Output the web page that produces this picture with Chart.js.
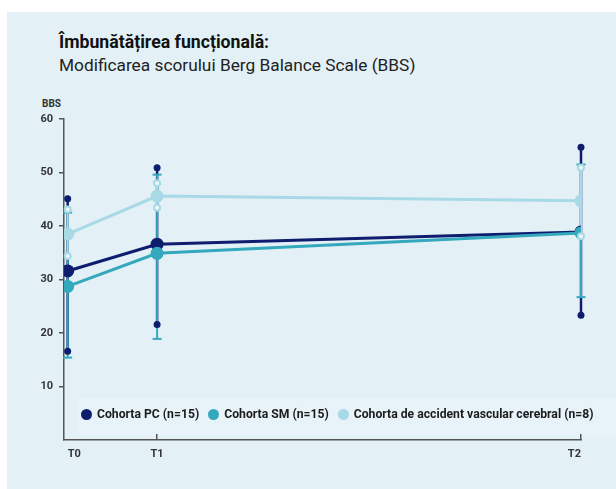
<!DOCTYPE html>
<html lang="ro">
<head>
    <meta charset="UTF-8">
    <title>Berg Balance Scale</title>
    <style>
        body {
            margin: 0;
            background: #ffffff;
            font-family: 'Roboto', 'Liberation Sans', sans-serif;
        }
        #wrap {
            position: relative;
            width: 616px;
            height: 489px;
            overflow: hidden;
        }
        #panel {
            position: absolute;
            left: 7px;
            top: 12px;
            right: 0;
            bottom: 0;
            background: #e3f1f7;
        }
        #legendBox {
            position: absolute;
            left: 79px;
            top: 398px;
            width: 537px;
            height: 38px;
            background: #e7f3f8;
        }
        #chart {
            position: absolute;
            left: 0;
            top: 0;
        }
        .title {
            position: absolute;
            left: 59px;
            top: 32px;
            font-size: 17.7px;
            font-weight: 700;
            color: #111;
        }
        .subtitle {
            position: absolute;
            left: 59px;
            top: 55px;
            font-size: 17.3px;
            color: #222;
        }
        .axisTitle {
            position: absolute;
            left: 42px;
            top: 98px;
            font-size: 10px;
            font-weight: 700;
            color: #333;
        }
        #legend {
            position: absolute;
            left: 81px;
            top: 407px;
            display: flex;
            gap: 9px;
            font-size: 12.2px;
            font-weight: 700;
            color: #1c1c1c;
        }
        #legend span.item {
            display: flex;
            align-items: center;
        }
        #legend i {
            display: inline-block;
            width: 11px;
            height: 11px;
            border-radius: 50%;
            margin-right: 5px;
        }
    </style>
    <script src="https://cdn.jsdelivr.net/npm/chart.js"></script>
</head>
<body>
<div id="wrap">
    <div id="panel"></div>
    <div id="legendBox"></div>
    <div class="title">Îmbunătățirea funcțională:</div>
    <div class="subtitle">Modificarea scorului Berg Balance Scale (BBS)</div>
    <div class="axisTitle">BBS</div>
    <canvas id="chart" width="616" height="489"></canvas>
    <div id="legend"></div>
</div>

<script>
    // time points and where they sit on the x axis
    const timepoints = ['T0', 'T1', 'T2'];
    const timeX = [0, 1, 5.74];

    const seriesNames = ['Cohorta PC (n=15)', 'Cohorta SM (n=15)', 'Cohorta de accident vascular cerebral (n=8)'];
    const seriesColors = ['#0e1d6e', '#34a8bd', '#a8d9e6'];

    // mean BBS, and error bar ends
    const pcMean = [31.6, 36.6, 38.9];
    const pcLow = [16.6, 21.6, 23.3];
    const pcHigh = [45.1, 50.9, 54.7];

    const smMean = [28.7, 34.9, 38.7];
    const smLow = [15.4, 18.9, 26.7];
    const smHigh = [42.5, 49.6, 51.5];

    const avcMean = [38.5, 45.6, 44.7];
    const avcLow = [34.4, 43.4, 38.1];
    const avcHigh = [43.1, 48.0, 50.9];

    const yTicks = [10, 20, 30, 40, 50, 60];

    const means = [pcMean, smMean, avcMean];
    const lows = [pcLow, smLow, avcLow];
    const highs = [pcHigh, smHigh, avcHigh];
    const endStyles = ['dot', 'cap', 'ring'];
    const drawOrder = [2, 1, 3];

    // legend
    const legendEl = document.getElementById('legend');
    seriesNames.forEach((name, i) => {
        const item = document.createElement('span');
        item.className = 'item';
        item.innerHTML = '<i style="background:' + seriesColors[i] + '"></i>' + name;
        legendEl.appendChild(item);
    });

    const toPoints = arr => arr.map((v, i) => ({ x: timeX[i], y: v }));

    // error bars: stems under the lines, end markers on top
    const errorBars = {
        id: 'errorBars',
        beforeDatasetsDraw(chart) {
            const { ctx, scales: { x, y } } = chart;
            ctx.save();
            [0, 1, 2].forEach(s => {
                ctx.strokeStyle = seriesColors[s];
                ctx.lineWidth = s === 0 ? 2.5 : 2;
                timeX.forEach((t, i) => {
                    const px = x.getPixelForValue(t);
                    ctx.beginPath();
                    ctx.moveTo(px, y.getPixelForValue(lows[s][i]));
                    ctx.lineTo(px, y.getPixelForValue(highs[s][i]));
                    ctx.stroke();
                });
            });
            ctx.restore();
        },
        afterDatasetsDraw(chart) {
            const { ctx, scales: { x, y } } = chart;
            ctx.save();
            [0, 1, 2].forEach(s => {
                timeX.forEach((t, i) => {
                    const px = x.getPixelForValue(t);
                    [lows[s][i], highs[s][i]].forEach(v => {
                        const py = y.getPixelForValue(v);
                        if (endStyles[s] === 'dot') {
                            ctx.fillStyle = seriesColors[s];
                            ctx.beginPath();
                            ctx.arc(px, py, 3.5, 0, Math.PI * 2);
                            ctx.fill();
                        } else if (endStyles[s] === 'cap') {
                            ctx.strokeStyle = seriesColors[s];
                            ctx.lineWidth = 2;
                            ctx.beginPath();
                            ctx.moveTo(px - 4.5, py);
                            ctx.lineTo(px + 4.5, py);
                            ctx.stroke();
                        } else {
                            ctx.fillStyle = '#eef7fa';
                            ctx.strokeStyle = seriesColors[s];
                            ctx.lineWidth = 2;
                            ctx.beginPath();
                            ctx.arc(px, py, 3, 0, Math.PI * 2);
                            ctx.fill();
                            ctx.stroke();
                        }
                    });
                });
            });
            ctx.restore();
        },
        afterDraw(chart) {
            // small inward tick marks on the x axis
            const { ctx, scales: { x }, chartArea } = chart;
            ctx.save();
            ctx.strokeStyle = '#555';
            ctx.lineWidth = 1.5;
            timeX.forEach((t, i) => {
                if (i === 0) return;
                const px = Math.round(x.getPixelForValue(t)) - 0.25;
                ctx.beginPath();
                ctx.moveTo(px, chartArea.bottom);
                ctx.lineTo(px, chartArea.bottom - 6);
                ctx.stroke();
            });
            ctx.restore();
        }
    };

    const tickFont = { family: "'Roboto', 'Liberation Sans', sans-serif", size: 11, weight: 'bold' };

    new Chart(document.getElementById('chart'), {
        type: 'line',
        data: {
            datasets: seriesNames.map((name, s) => ({
                label: name,
                data: toPoints(means[s]),
                borderColor: seriesColors[s],
                backgroundColor: seriesColors[s],
                borderWidth: 3,
                pointRadius: 6.5,
                pointHoverRadius: 6.5,
                pointBorderWidth: 0,
                tension: 0,
                order: drawOrder[s]
            }))
        },
        options: {
            responsive: false,
            animation: false,
            layout: { padding: { left: 0, right: 35, top: 119, bottom: 19 } },
            plugins: {
                legend: { display: false },
                tooltip: { enabled: false }
            },
            scales: {
                x: {
                    type: 'linear',
                    min: -0.041,
                    max: timeX[timeX.length - 1],
                    afterBuildTicks: scale => {
                        scale.ticks = timeX.map(v => ({ value: v }));
                    },
                    afterFit: scale => { scale.height = 30; },
                    grid: { display: false, drawTicks: false },
                    border: { display: true, color: '#555', width: 1.5 },
                    ticks: {
                        align: 'inner',
                        padding: 8,
                        color: '#333',
                        font: tickFont,
                        maxRotation: 0,
                        autoSkip: false,
                        callback: (v, i) => timepoints[i]
                    }
                },
                y: {
                    min: 0,
                    max: 60,
                    afterBuildTicks: scale => {
                        scale.ticks = [0].concat(yTicks).map(v => ({ value: v }));
                    },
                    afterFit: scale => { scale.width = 64; },
                    grid: {
                        drawOnChartArea: false,
                        drawTicks: true,
                        tickLength: 5,
                        lineWidth: 1.5,
                        color: c => (c.tick && c.tick.value === 0) ? 'rgba(0,0,0,0)' : '#555'
                    },
                    border: { display: true, color: '#555', width: 1.5 },
                    ticks: {
                        padding: 6,
                        color: '#333',
                        font: tickFont,
                        callback: v => (v === 0 ? '' : v)
                    }
                }
            }
        },
        plugins: [errorBars]
    });
</script>
</body>
</html>
